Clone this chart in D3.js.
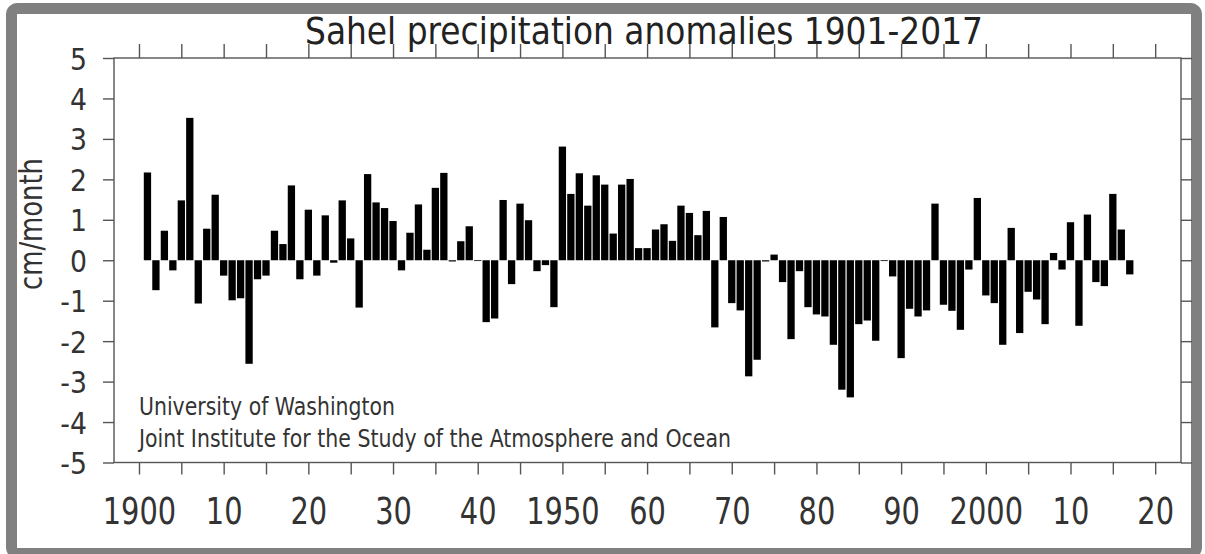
<!DOCTYPE html>
<html>
<head>
<meta charset="utf-8">
<script src="https://cdn.jsdelivr.net/npm/d3@7"></script>
<style>
  body { margin: 0; background: #fff; }
  text { font-family: "DejaVu Sans", sans-serif; }
</style>
</head>
<body>
<div id="chart-area"></div>
<script>
// Sahel precipitation anomalies (cm/month), one value per year from 1901
const FIRST_YEAR = 1901
const anomalies = [
  2.17, -0.74, 0.73, -0.25, 1.48, 3.52, -1.07, 0.78, 1.62, -0.38,
  -0.99, -0.94, -2.56, -0.47, -0.38, 0.73, 0.40, 1.85, -0.47, 1.25,
  -0.38, 1.11, -0.06, 1.48, 0.54, -1.17, 2.13, 1.43, 1.29, 0.97,
  -0.25, 0.68, 1.38, 0.26, 1.79, 2.16, -0.03, 0.47, 0.84, 0.00,
  -1.53, -1.44, 1.49, -0.59, 1.40, 0.99, -0.27, -0.12, -1.16, 2.81,
  1.64, 2.15, 1.35, 2.10, 1.87, 0.66, 1.87, 2.01, 0.30, 0.30,
  0.76, 0.89, 0.48, 1.35, 1.17, 0.62, 1.22, -1.66, 1.07, -1.06,
  -1.24, -2.87, -2.46, -0.03, 0.14, -0.54, -1.95, -0.27, -1.16, -1.34,
  -1.39, -2.09, -3.20, -3.39, -1.58, -1.49, -1.99, 0.00, -0.40, -2.42,
  -1.20, -1.39, -1.24, 1.40, -1.10, -1.25, -1.72, -0.23, 1.54, -0.87,
  -1.06, -2.09, 0.80, -1.80, -0.78, -0.97, -1.58, 0.18, -0.23, 0.94,
  -1.62, 1.13, -0.54, -0.64, 1.64, 0.76, -0.35
]
const xTickYears = [1900, 1905, 1910, 1915, 1920, 1925, 1930, 1935, 1940, 1945, 1950, 1955, 1960,
  1965, 1970, 1975, 1980, 1985, 1990, 1995, 2000, 2005, 2010, 2015, 2020]
const xTickLabels = ["1900", "", "10", "", "20", "", "30", "", "40", "", "1950", "", "60",
  "", "70", "", "80", "", "90", "", "2000", "", "10", "", "20"]
const yTicks = [-5, -4, -3, -2, -1, 0, 1, 2, 3, 4, 5]

const TITLE = "Sahel precipitation anomalies 1901-2017"
const Y_LABEL = "cm/month"
const CREDIT = ["University of Washington", "Joint Institute for the Study of the Atmosphere and Ocean"]

const W = 1205, H = 554
const PLOT = { LEFT: 114, RIGHT: 1181, TOP: 58, BOTTOM: 462.5 }
const AXIS_COLOR = "#555"
const TEXT_COLOR = "#222"
const LABEL_COLOR = "#333"

const data = anomalies.map((v, i) => ({ year: FIRST_YEAR + i, value: v }))

const svg = d3.select("#chart-area").append("svg")
  .attr("width", W)
  .attr("height", H)

// squeeze text horizontally (the original font is narrow)
function squeeze(sel, f) {
  sel.each(function () {
    const w = this.getComputedTextLength()
    d3.select(this).attr("textLength", w * f).attr("lengthAdjust", "spacingAndGlyphs")
  })
}

// grey outer frame
svg.append("rect")
  .attr("x", 11.5).attr("y", 8.5)
  .attr("width", 1185).attr("height", 545)
  .attr("rx", 6)
  .attr("fill", "#fff")
  .attr("stroke", "#808080")
  .attr("stroke-width", 11)

const x = d3.scaleLinear()
  .domain([1897.05, 2023.05])
  .range([PLOT.LEFT, PLOT.RIGHT])

const y = d3.scaleLinear()
  .domain([-5, 5])
  .range([PLOT.BOTTOM, PLOT.TOP])

const barW = 7.3

// bars
svg.append("g").selectAll("rect")
  .data(data)
  .enter().append("rect")
    .attr("x", d => x(d.year) - barW / 2)
    .attr("y", d => y(Math.max(0, d.value)))
    .attr("width", barW)
    .attr("height", d => Math.max(0.8, Math.abs(y(d.value) - y(0))))
    .attr("fill", "#000")

// axes
function styleAxis(g) {
  g.select(".domain").remove()
  g.selectAll(".tick line").attr("stroke", AXIS_COLOR).attr("stroke-width", 1.4)
}

const xBottom = svg.append("g")
  .attr("transform", `translate(0, ${PLOT.BOTTOM})`)
  .call(d3.axisBottom(x).tickValues(xTickYears).tickSize(12)
    .tickFormat((d, i) => xTickLabels[i]))
  .call(styleAxis)
xBottom.selectAll("text")
  .attr("y", 61)
  .attr("dy", null)
  .attr("font-size", "38px")
  .attr("fill", LABEL_COLOR)
  .attr("font-family", "DejaVu Sans")
squeeze(xBottom.selectAll("text"), 0.76)

svg.append("g")
  .attr("transform", `translate(0, ${PLOT.TOP})`)
  .call(d3.axisTop(x).tickValues(xTickYears).tickSize(14).tickFormat(""))
  .call(styleAxis)

const yLeft = svg.append("g")
  .attr("transform", `translate(${PLOT.LEFT}, 0)`)
  .call(d3.axisLeft(y).tickValues(yTicks).tickSize(11).tickFormat(d => String(d)))
  .call(styleAxis)
yLeft.selectAll("text")
  .attr("x", -27)
  .attr("dy", null)
  .attr("y", 11)
  .attr("font-size", "30px")
  .attr("fill", LABEL_COLOR)
  .attr("font-family", "DejaVu Sans")
squeeze(yLeft.selectAll("text"), 0.89)

svg.append("g")
  .attr("transform", `translate(${PLOT.RIGHT}, 0)`)
  .call(d3.axisRight(y).tickValues(yTicks).tickSize(11).tickFormat(""))
  .call(styleAxis)

// plot box
svg.append("rect")
  .attr("x", PLOT.LEFT).attr("y", PLOT.TOP)
  .attr("width", PLOT.RIGHT - PLOT.LEFT)
  .attr("height", PLOT.BOTTOM - PLOT.TOP)
  .attr("fill", "none")
  .attr("stroke", AXIS_COLOR)
  .attr("stroke-width", 1.4)

// title
svg.append("text")
  .attr("x", 644)
  .attr("y", 44)
  .attr("text-anchor", "middle")
  .attr("font-size", "38px")
  .attr("fill", TEXT_COLOR)
  .attr("textLength", 678)
  .attr("lengthAdjust", "spacingAndGlyphs")
  .text(TITLE)

// y label
svg.append("text")
  .attr("transform", "translate(42, 224) rotate(-90)")
  .attr("text-anchor", "middle")
  .attr("font-size", "32px")
  .attr("fill", LABEL_COLOR)
  .attr("textLength", 132)
  .attr("lengthAdjust", "spacingAndGlyphs")
  .text(Y_LABEL)

// credit lines
svg.append("text")
  .attr("x", 139).attr("y", 415)
  .attr("font-size", "25px")
  .attr("fill", "#333")
  .attr("textLength", 256)
  .attr("lengthAdjust", "spacingAndGlyphs")
  .text(CREDIT[0])

svg.append("text")
  .attr("x", 139).attr("y", 447)
  .attr("font-size", "25px")
  .attr("fill", "#333")
  .attr("textLength", 592)
  .attr("lengthAdjust", "spacingAndGlyphs")
  .text(CREDIT[1])
</script>
</body>
</html>
